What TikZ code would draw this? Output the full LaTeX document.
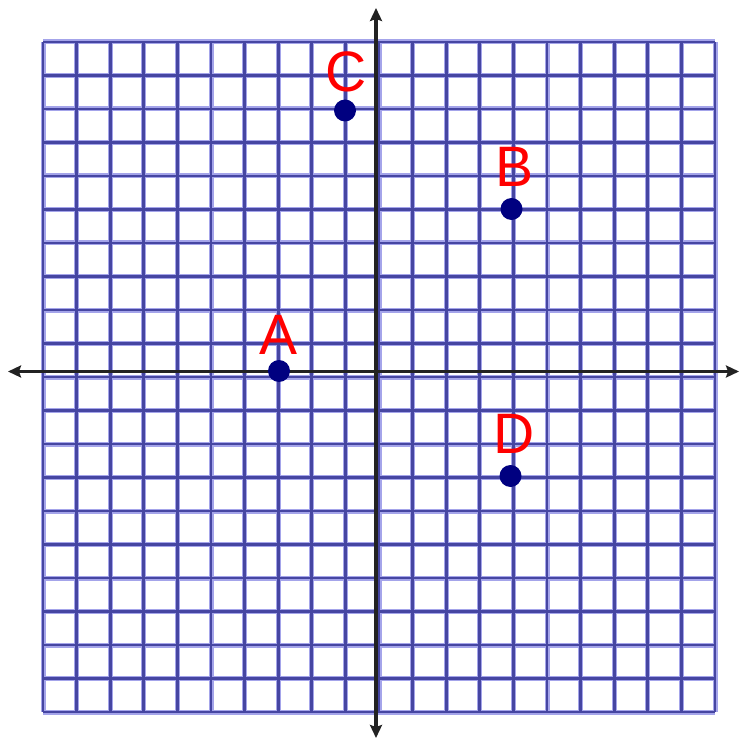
\documentclass[tikz,border=0pt]{standalone}
\usepackage{fontspec}
\setmainfont{Liberation Sans}
\usetikzlibrary{arrows.meta}
\definecolor{gridlight}{HTML}{A4A4EA}
\definecolor{griddark}{HTML}{4646A2}
\definecolor{axiscol}{HTML}{222222}
\definecolor{dotcol}{HTML}{000080}
\tikzset{
  gridouter/.style={line width=5pt, gridlight},
  gridinner/.style={line width=2.8pt, griddark},
  axisline/.style={line width=3.4pt, axiscol, {Stealth[length=13pt,width=12pt,inset=2pt]}-{Stealth[length=13pt,width=12pt,inset=2pt]}},
  dotnode/.style={circle, fill=dotcol, inner sep=0pt, minimum size=22pt},
  lbl/.style={text=red, font=\fontsize{57}{62}\selectfont, inner sep=0pt, anchor=base}
}
\begin{document}
\begin{tikzpicture}[x=1pt,y=-1pt]
\useasboundingbox (0,0) rectangle (739,738);
% grid
\foreach \i in {0,...,20}{
  \draw[gridouter] ({43+33.6*\i},42) -- ({43+33.6*\i},712);
  \draw[gridouter] (43,{42+33.5*\i}) -- (715,{42+33.5*\i});
}
\foreach \i in {0,...,20}{
  \draw[gridinner] ({43+33.6*\i},42) -- ({43+33.6*\i},712);
  \draw[gridinner] (43,{42+33.5*\i}) -- (715,{42+33.5*\i});
}
% axes
\coordinate (xl) at (8,371.5);
\coordinate (xr) at (739,371.5);
\coordinate (yt) at (376,8);
\coordinate (yb) at (376,738);
\draw[axisline] (xl) -- (xr);
\draw[axisline] (yb) -- (yt);
% points
\node[dotnode] (A) at (279,371) {};
\node[dotnode] (B) at (511.5,209) {};
\node[dotnode] (C) at (345,110.5) {};
\node[dotnode] (D) at (510.5,476) {};
% labels
\node[lbl] (lA) at (279,354) {A};
\node[lbl] (lB) at (515,187) {B};
\node[lbl] (lC) at (346,92) {C};
\node[lbl] (lD) at (514,453) {D};
\end{tikzpicture}
\end{document}
